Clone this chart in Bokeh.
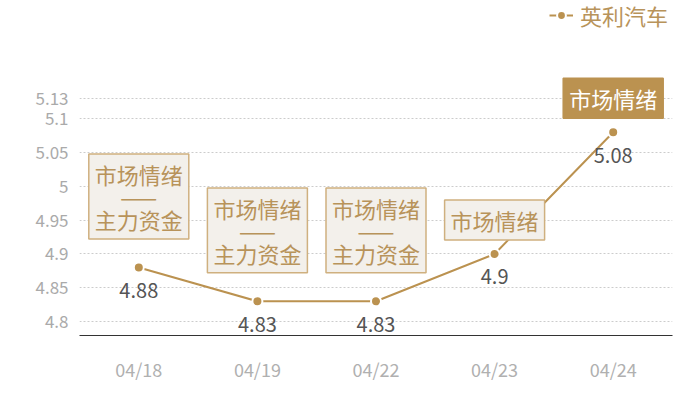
from bokeh.plotting import figure
from bokeh.models import ColumnDataSource, FixedTicker, Legend, LegendItem
from bokeh.core.properties import value
from bokeh.embed import file_html
from bokeh.resources import INLINE

# ---- data ----
dates = ["04/18", "04/19", "04/22", "04/23", "04/24"]
prices = [4.88, 4.83, 4.83, 4.90, 5.08]
value_labels = ["4.88", "4.83", "4.83", "4.9", "5.08"]
tags = ["市场情绪\n——\n主力资金", "市场情绪\n——\n主力资金", "市场情绪\n——\n主力资金", "市场情绪", "市场情绪"]
highlight = [False, False, False, False, True]
series_name = "英利汽车"
ytick_values = [4.8, 4.85, 4.9, 4.95, 5.0, 5.05, 5.1, 5.13]
ytick_labels = ["4.8", "4.85", "4.9", "4.95", "5", "5.05", "5.1", "5.13"]

FONT = "Noto Sans CJK SC"
GOLD = "#bb9250"
TAG_TEXT = "#b8935a"
TAG_FILL = "#f3f0eb"
TAG_BORDER = "#cfb07f"

p = figure(width=684, height=384, x_range=dates, y_range=(4.7794, 5.275),
           output_backend="svg", toolbar_location=None,
           min_border_left=79, min_border_right=12, min_border_top=0, min_border_bottom=47)
p.x_range.range_padding = 0
p.outline_line_color = None
p.background_fill_color = "white"

# grid
p.xgrid.grid_line_color = None
p.ygrid.grid_line_color = "#cccccc"
p.ygrid.grid_line_dash = "2 2"
p.ygrid.grid_line_width = 1
p.yaxis.ticker = FixedTicker(ticks=ytick_values)
p.yaxis.major_label_overrides = dict(zip(ytick_values, ytick_labels))

# axes
p.yaxis.axis_line_color = None
p.yaxis.major_tick_line_color = None
p.yaxis.minor_tick_line_color = None
p.yaxis.major_label_text_color = "#aaaaaa"
p.yaxis.major_label_text_font = FONT
p.yaxis.major_label_text_font_size = "17px"
p.yaxis.major_label_standoff = 5

p.xaxis.axis_line_color = "#333333"
p.xaxis.axis_line_width = 1.2
p.xaxis.major_tick_line_color = None
p.xaxis.minor_tick_line_color = None
p.xaxis.major_label_text_color = "#b0b0b0"
p.xaxis.major_label_text_font = FONT
p.xaxis.major_label_text_font_size = "18px"
p.xaxis.major_label_standoff = 14

src = ColumnDataSource(dict(x=dates, y=prices, lab=value_labels))
ln = p.line("x", "y", source=src, line_color=GOLD, line_width=2)
pts = p.scatter("x", "y", source=src, size=10, fill_color=GOLD, line_color="white", line_width=2)

p.text("x", "y", text="lab", source=src, text_font=value(FONT), text_font_size="20px",
       text_color="#555555", text_align="center", text_baseline="middle", y_offset=23)

# tags
tag_src = ColumnDataSource(dict(
    x=dates, y=prices, t=tags,
    off=[-71 if "\n" in t else -34 for t in tags],
    tc=["white" if h else TAG_TEXT for h in highlight],
    fc=[GOLD if h else TAG_FILL for h in highlight],
    bc=[GOLD if h else TAG_BORDER for h in highlight],
))
p.text("x", "y", text="t", source=tag_src, y_offset="off",
       text_font=value(FONT), text_font_size="22px", text_color="tc",
       text_align="center", text_baseline="middle", text_line_height=0.7,
       background_fill_color="fc", border_line_color="bc", border_line_width=1.5,
       padding=(6, 4))

legend = Legend(items=[LegendItem(label=series_name, renderers=[ln, pts])],
                location=(470, 304), orientation="horizontal",
                padding=0, margin=0, border_line_color=None, background_fill_alpha=0,
                label_text_font=FONT, label_text_font_size="22px", label_text_color=TAG_TEXT,
                glyph_width=24, glyph_height=22, label_standoff=7, label_height=22)
p.add_layout(legend)

open("out.html", "w").write(file_html(p, INLINE))
